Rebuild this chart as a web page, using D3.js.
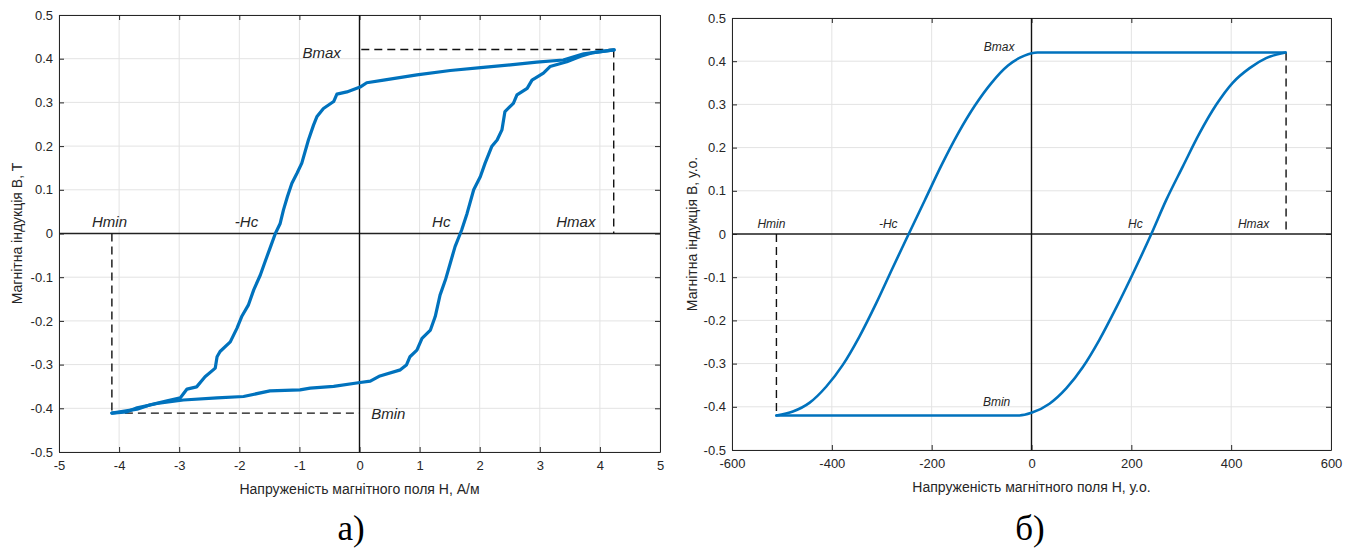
<!DOCTYPE html>
<html>
<head>
<meta charset="utf-8">
<script src="https://d3js.org/d3.v7.min.js"></script>
<style>
  body { margin: 0; background: #fff; }
  svg text { font-family: Arial, "Liberation Sans", sans-serif; fill: #262626; }
</style>
</head>
<body>
<svg id="chart" width="1355" height="550"></svg>
<script>
  // ---- panel а) measured loop, H in A/m, B in T ----
  // upper (descending) branch, from Hmax going left
  const measDownH = [4.24, 3.73, 3.39, 2.95, 2.51, 2.06, 1.51, 0.955, 0.40, 0.12, 0.01, -0.21, -0.376, -0.43, -0.60, -0.71, -0.765, -0.85, -0.96, -1.04, -1.125, -1.20, -1.265, -1.32, -1.40, -1.49, -1.57, -1.65, -1.76, -1.85, -1.96, -2.04, -2.15, -2.32, -2.37, -2.40, -2.57, -2.71, -2.87, -2.98, -3.20, -3.48, -3.70, -4.12];
  const measDownB = [0.42, 0.411, 0.397, 0.392, 0.386, 0.380, 0.373, 0.363, 0.351, 0.345, 0.335, 0.324, 0.319, 0.302, 0.286, 0.267, 0.248, 0.214, 0.161, 0.138, 0.115, 0.084, 0.054, 0.023, 0.0, -0.034, -0.064, -0.095, -0.129, -0.164, -0.190, -0.217, -0.248, -0.270, -0.282, -0.308, -0.328, -0.351, -0.356, -0.376, -0.383, -0.392, -0.402, -0.411];
  // lower (ascending) branch, from Hmin going right
  const measUpH = [-4.12, -3.87, -3.70, -3.37, -2.93, -2.37, -1.93, -1.49, -0.99, -0.82, -0.43, 0.01, 0.18, 0.34, 0.68, 0.78, 0.84, 0.955, 1.04, 1.18, 1.26, 1.34, 1.43, 1.51, 1.59, 1.70, 1.79, 1.90, 2.01, 2.09, 2.20, 2.29, 2.37, 2.42, 2.56, 2.62, 2.79, 2.87, 3.06, 3.17, 3.45, 3.67, 3.89, 4.23];
  const measUpB = [-0.411, -0.408, -0.399, -0.389, -0.381, -0.376, -0.373, -0.360, -0.358, -0.354, -0.350, -0.341, -0.338, -0.326, -0.312, -0.301, -0.282, -0.267, -0.240, -0.221, -0.190, -0.141, -0.106, -0.068, -0.030, 0.008, 0.046, 0.100, 0.130, 0.161, 0.199, 0.214, 0.237, 0.279, 0.298, 0.317, 0.332, 0.351, 0.367, 0.382, 0.393, 0.405, 0.414, 0.420];
  const measHmax = 4.23, measHmin = -4.12, measBmax = 0.421, measBmin = -0.411;

  // ---- panel б) model loop, relative units ----
  const modelUpH = [-511, -478, -445, -411, -378, -345, -311, -278, -246, -213, -180, -147, -113, -80, -47, -14, 12, 509];
  const modelUpB = [-0.42, -0.411, -0.391, -0.353, -0.303, -0.238, -0.160, -0.078, 0, 0.080, 0.160, 0.233, 0.298, 0.350, 0.390, 0.413, 0.420, 0.420];
  const modelDownH = [509, 470, 437, 403, 370, 337, 303, 270, 240, 203, 170, 136, 103, 70, 36, 0, -24, -511];
  const modelDownB = [0.42, 0.407, 0.384, 0.350, 0.299, 0.234, 0.156, 0.079, 0, -0.092, -0.170, -0.245, -0.308, -0.357, -0.393, -0.414, -0.420, -0.420];
  const modelHmax = 510, modelHmin = -511, modelBmax = 0.42, modelBmin = -0.42;

  const xTicksA = [-5, -4, -3, -2, -1, 0, 1, 2, 3, 4, 5];
  const xTicksB = [-600, -400, -200, 0, 200, 400, 600];
  const yTicks = [-0.5, -0.4, -0.3, -0.2, -0.1, 0, 0.1, 0.2, 0.3, 0.4, 0.5];

  const blue = '#0072BD';
  const svg = d3.select('#chart');
  const fmt = d => String(Math.round(d * 10) / 10);   // plain hyphen minus like the original

  function zip(hs, bs) { return hs.map((h, i) => [h, bs[i]]); }

  function drawPanel(p) {
    const x = d3.scaleLinear().domain(p.xDomain).range([p.left, p.right]);
    const y = d3.scaleLinear().domain([-0.5, 0.5]).range([p.bottom, p.top]);
    const g = svg.append('g');

    // grid
    g.selectAll('.gx').data(p.xTicks).enter().append('line')
      .attr('x1', d => x(d)).attr('x2', d => x(d))
      .attr('y1', p.top).attr('y2', p.bottom)
      .attr('stroke', '#e3e3e3').attr('stroke-width', 1);
    g.selectAll('.gy').data(yTicks).enter().append('line')
      .attr('y1', d => y(d)).attr('y2', d => y(d))
      .attr('x1', p.left).attr('x2', p.right)
      .attr('stroke', '#e3e3e3').attr('stroke-width', 1);

    // axes, ticks inward, box on
    const bottomAx = d3.axisBottom(x).tickValues(p.xTicks).tickSizeInner(-5).tickSizeOuter(0).tickPadding(9).tickFormat(fmt);
    const topAx = d3.axisTop(x).tickValues(p.xTicks).tickSizeInner(-5).tickSizeOuter(0).tickFormat('');
    const leftAx = d3.axisLeft(y).tickValues(yTicks).tickSizeInner(-5).tickSizeOuter(0).tickPadding(6).tickFormat(fmt);
    const rightAx = d3.axisRight(y).tickValues(yTicks).tickSizeInner(-5).tickSizeOuter(0).tickFormat('');

    [[bottomAx, `translate(0,${p.bottom})`], [topAx, `translate(0,${p.top})`],
     [leftAx, `translate(${p.left},0)`], [rightAx, `translate(${p.right},0)`]].forEach(([ax, tr]) => {
      const a = g.append('g').attr('transform', tr).call(ax);
      a.select('.domain').attr('stroke', '#262626').attr('stroke-width', 1);
      a.selectAll('.tick line').attr('stroke', '#262626');
      a.selectAll('.tick text').attr('font-size', '13px').attr('fill', '#262626')
        .attr('font-family', 'Arial, "Liberation Sans", sans-serif');
    });

    // zero lines
    g.append('line').attr('x1', p.left).attr('x2', p.right).attr('y1', y(0)).attr('y2', y(0))
      .attr('stroke', '#222').attr('stroke-width', 1.6);
    g.append('line').attr('x1', x(0)).attr('x2', x(0)).attr('y1', p.top).attr('y2', p.bottom)
      .attr('stroke', '#111').attr('stroke-width', 1.4);

    // dashed helper lines
    p.dashes.forEach(dl => {
      g.append('line')
        .attr('x1', x(dl[0])).attr('y1', y(dl[1])).attr('x2', x(dl[2])).attr('y2', y(dl[3]))
        .attr('stroke', '#111').attr('stroke-width', 1.4).attr('stroke-dasharray', '8,5');
    });

    // loop
    const line = d3.line().x(d => x(d[0])).y(d => y(d[1])).curve(p.curve);
    p.branches.forEach(br => {
      g.append('path').datum(br).attr('d', line)
        .attr('fill', 'none').attr('stroke', blue).attr('stroke-width', p.lw)
        .attr('stroke-linejoin', 'round').attr('stroke-linecap', 'round');
    });

    // point labels
    p.labels.forEach(l => {
      g.append('text').attr('x', x(l[1])).attr('y', y(l[2]))
        .attr('font-size', p.labelSize).attr('font-style', 'italic')
        .attr('text-anchor', 'middle').attr('fill', '#111').text(l[0]);
    });

    // axis titles
    g.append('text').attr('x', (p.left + p.right) / 2).attr('y', p.bottom + 42)
      .attr('text-anchor', 'middle').attr('font-size', '14px').text(p.xTitle);
    g.append('text').attr('transform', `translate(${p.yTitleX},${(p.top + p.bottom) / 2}) rotate(-90)`)
      .attr('text-anchor', 'middle').attr('font-size', '14px').text(p.yTitle);

    // panel letter
    svg.append('text').attr('x', p.letterX).attr('y', 540)
      .attr('text-anchor', 'middle').attr('font-size', '35px')
      .style('font-family', '"Liberation Serif", "DejaVu Serif", serif').style('fill', '#000')
      .text(p.letter);
  }

  drawPanel({
    left: 59, right: 660, top: 15, bottom: 452,
    xDomain: [-5, 5], xTicks: xTicksA, lw: 3.2, curve: d3.curveLinear,
    branches: [zip(measDownH, measDownB), zip(measUpH, measUpB)],
    dashes: [[0.03, measBmax, measHmax, measBmax], [measHmax, measBmax, measHmax, 0],
             [measHmin, 0, measHmin, measBmin], [measHmin, measBmin, 0, measBmin]],
    labels: [['Bmax', -0.63, 0.402], ['Hmin', -4.16, 0.015], ['-Hc', -1.88, 0.015],
             ['Hc', 1.36, 0.015], ['Hmax', 3.6, 0.015], ['Bmin', 0.48, -0.424]],
    labelSize: '15px',
    xTitle: 'Напруженість магнітного поля H, А/м', yTitle: 'Магнітна індукція B, T',
    yTitleX: 22, letter: 'а)', letterX: 351
  });

  drawPanel({
    left: 732, right: 1331, top: 18, bottom: 450,
    xDomain: [-600, 600], xTicks: xTicksB, lw: 2.6, curve: d3.curveMonotoneX,
    branches: [zip(modelUpH, modelUpB), zip(modelDownH, modelDownB)],
    dashes: [[modelHmax, modelBmax, modelHmax, 0], [modelHmin, 0, modelHmin, modelBmin]],
    labels: [['Bmax', -65, 0.424], ['Hmin', -521, 0.015], ['-Hc', -287, 0.015],
             ['Hc', 208, 0.015], ['Hmax', 445, 0.015], ['Bmin', -70, -0.397]],
    labelSize: '12px',
    xTitle: 'Напруженість магнітного поля H, у.о.', yTitle: 'Магнітна індукція B, у.о.',
    yTitleX: 697, letter: 'б)', letterX: 1030
  });
</script>
</body>
</html>
